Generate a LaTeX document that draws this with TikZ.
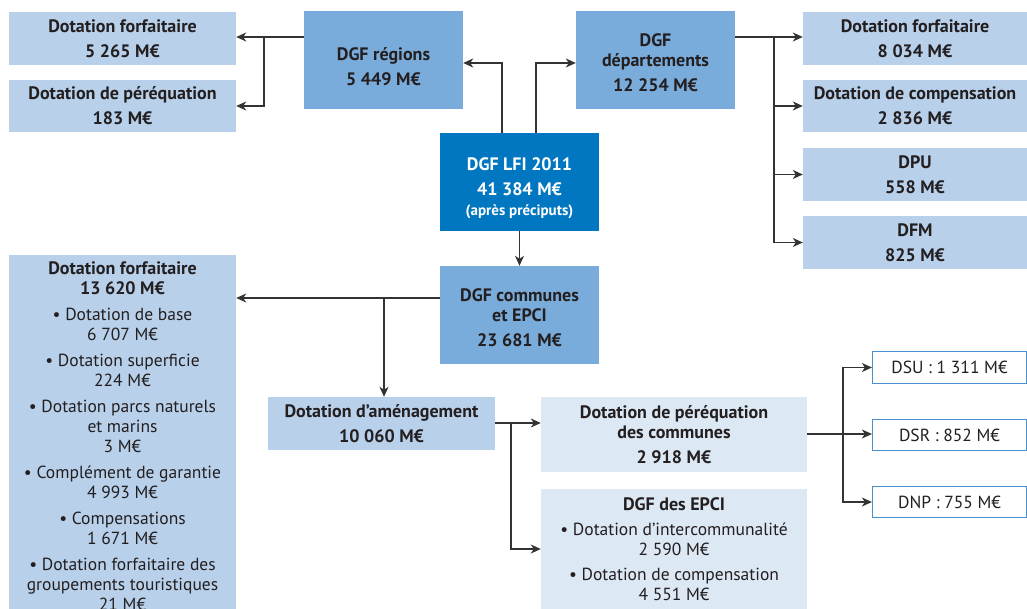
\documentclass[tikz,border=0pt]{standalone}
\usepackage{fontspec}
\setmainfont{PT Sans}
\usetikzlibrary{arrows.meta}
\definecolor{cdark}{HTML}{0077C0}
\definecolor{cmed}{HTML}{7AACDB}
\definecolor{clight}{HTML}{B8D0EA}
\definecolor{cpale}{HTML}{DDE8F5}
\definecolor{cborder}{HTML}{4A90D0}
\definecolor{ctext}{HTML}{231F20}
\definecolor{cline}{HTML}{333333}
\tikzset{
  box/.style={rectangle, inner sep=0pt, align=center, text=ctext,
    font=\fontsize{18}{20}\selectfont\bfseries},
  darkbox/.style={box, fill=cdark, text=white},
  medbox/.style={box, fill=cmed},
  lightbox/.style={box, fill=clight},
  palebox/.style={box, fill=cpale},
  outbox/.style={rectangle, inner sep=0pt, align=center, text=ctext,
    fill=white, draw=cborder, line width=1.2pt,
    font=\fontsize{17.5}{20}\selectfont},
  arr/.style={draw=cline, line width=1.4pt, -{Stealth[length=10pt,width=9pt,inset=3pt]}},
}
\newcommand{\rg}[1]{{\fontsize{17.5}{20}\selectfont\mdseries #1}}
\newcommand{\topstrut}[1]{\rule{0pt}{#1}}
\begin{document}
\begin{tikzpicture}[x=1pt,y=-1pt]
\useasboundingbox (0,0) rectangle (1027,609);
\clip (0,0) rectangle (1027,609);
% top-left
\node[lightbox, minimum width=227pt, minimum height=53pt] (rf) at (122.5,38.5) {Dotation forfaitaire\\[5pt]5 265 M€};
\node[lightbox, minimum width=227pt, minimum height=52pt] (rp) at (122.5,106) {Dotation de péréquation\\[5pt]183 M€};
\node[medbox, minimum width=159pt, minimum height=98pt] (reg) at (383.5,60) {\topstrut{26pt}DGF régions\\[5pt]5 449 M€};
\node[medbox, minimum width=159pt, minimum height=98pt] (dep) at (655.5,60) {\topstrut{19pt}DGF\\départements\\[5pt]12 254 M€};
\node[darkbox, minimum width=159pt, minimum height=98pt] (lfi) at (519.5,182) {\topstrut{25pt}DGF LFI 2011\\[5pt]41 384 M€\\[0pt]{\fontsize{15}{16}\selectfont (après préciputs)}};
% right
\node[lightbox, minimum width=224pt, minimum height=53pt] (df) at (915,38.5) {Dotation forfaitaire\\[5pt]8 034 M€};
\node[lightbox, minimum width=224pt, minimum height=52pt] (dc) at (915,106) {Dotation de compensation\\[5pt]2 836 M€};
\node[lightbox, minimum width=224pt, minimum height=53pt] (dpu) at (915,174.5) {DPU\\[5pt]558 M€};
\node[lightbox, minimum width=224pt, minimum height=53pt] (dfm) at (915,242.5) {DFM\\[5pt]825 M€};
% communes
\node[medbox, minimum width=159pt, minimum height=98pt] (com) at (519.5,315) {\topstrut{18pt}DGF communes\\et EPCI\\[5pt]23 681 M€};
\node[lightbox, minimum width=227pt, minimum height=352pt] (big) at (122.5,433) {\topstrut{20pt}Dotation forfaitaire\\13 620 M€\\[6pt]
\rg{• Dotation de base}\\\rg{6 707 M€}\\[6pt]
\rg{• Dotation superficie}\\\rg{224 M€}\\[6pt]
\rg{• Dotation parcs naturels}\\\rg{et marins}\\\rg{3 M€}\\[6pt]
\rg{• Complément de garantie}\\\rg{4 993 M€}\\[6pt]
\rg{• Compensations}\\\rg{1 671 M€}\\[6pt]
\rg{• Dotation forfaitaire des}\\\rg{groupements touristiques}\\\rg{21 M€}};
\node[lightbox, minimum width=227pt, minimum height=53pt] (am) at (381.5,423.5) {Dotation d’aménagement\\[5pt]10 060 M€};
\node[palebox, minimum width=266pt, minimum height=75pt] (pc) at (674,434.5) {Dotation de péréquation\\des communes\\[5pt]2 918 M€};
\node[palebox, minimum width=266pt, minimum height=120pt] (epci) at (674,549) {DGF des EPCI\\[5pt]\rg{• Dotation d’intercommunalité}\\\rg{2 590 M€}\\[5pt]\rg{• Dotation de compensation}\\\rg{4 551 M€}};
\node[outbox, minimum width=154pt, minimum height=32pt] (dsu) at (949.5,367.5) {DSU : 1 311 M€};
\node[outbox, minimum width=154pt, minimum height=31pt] (dsr) at (949.5,435) {DSR : 852 M€};
\node[outbox, minimum width=154pt, minimum height=31pt] (dnp) at (949.5,502) {DNP : 755 M€};
% coordinates
\coordinate (br1) at (264,37);
\coordinate (br2) at (774,37);
\coordinate (br3) at (384,298);
\coordinate (br4) at (511,423);
\coordinate (br5) at (843,434);
% connectors
\draw[arr] (reg.west |- br1) -- (rf.east |- br1);
\draw[arr] (br1) |- (rp.east);
\draw[arr] ([xshift=-17.5pt]lfi.north) |- ([yshift=-3pt]reg.east);
\draw[arr] ([xshift=16.5pt]lfi.north) |- ([yshift=-3pt]dep.west);
\draw[arr] (dep.east |- br2) -- (df.west |- br2);
\draw[arr] (br2) |- (dc.west);
\draw[arr] (br2) |- (dpu.west);
\draw[arr] (br2) |- (dfm.west);
\draw[arr] (lfi.south) -- (com.north);
\draw[arr] (com.west |- br3) -- (big.east |- br3);
\draw[arr] (br3) -- (br3 |- am.north);
\draw[arr] (am.east |- br4) -- (pc.west |- br4);
\draw[arr] (br4) |- (epci.west);
\draw[arr] (pc.east |- br5) -- (dsr.west |- br5);
\draw[arr] (br5) |- (dsu.west);
\draw[arr] (br5) |- (dnp.west);
\end{tikzpicture}
\end{document}
